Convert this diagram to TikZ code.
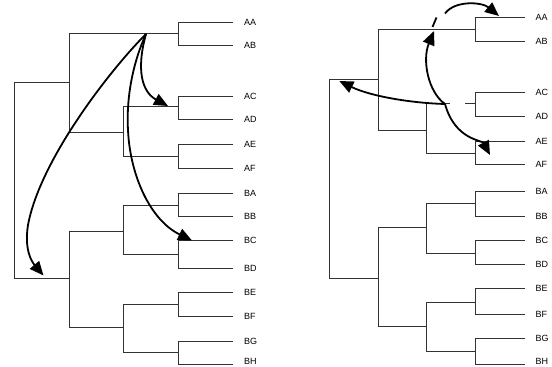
\documentclass[tikz,border=0pt]{standalone}
\usepackage{fontspec}
\setmainfont{Liberation Sans}
\usetikzlibrary{arrows.meta}
\begin{document}
\begin{tikzpicture}[x=1pt,y=-1pt,
  branch/.style={line width=0.7pt, draw=black!80},
  move/.style={line width=1.8pt, draw=black, -{Triangle[length=14pt,width=12pt]}},
  plain/.style={line width=1.8pt, draw=black},
  leaf/.style={anchor=west, inner sep=0pt, font=\fontsize{9}{10}\selectfont}]
\useasboundingbox (0,0) rectangle (552,367);

% ---------------- left tree ----------------
\foreach \n/\y in {AA/22,AB/45.7,AC/96,AD/119.5,AE/144.5,AF/168,BA/193.3,BB/216.7,BC/240.7,BD/268.3,BE/292,BF/316,BG/341.3,BH/361.5}
  \node[leaf] (L\n) at (244,\y) {\n};
% cherries
\draw[branch] (233,22) -- (178,22) -- (178,45.7) -- (233,45.7);
\draw[branch] (233,96) -- (178,96) -- (178,119.5) -- (233,119.5);
\draw[branch] (233,144.5) -- (178,144.5) -- (178,168) -- (233,168);
\draw[branch] (233,193.3) -- (178,193.3) -- (178,216.7) -- (233,216.7);
\draw[branch] (233,240.7) -- (178,240.7) -- (178,268.3) -- (233,268.3);
\draw[branch] (233,292) -- (178,292) -- (178,316) -- (233,316);
\draw[branch] (233,341.3) -- (178,341.3) -- (178,364.3) -- (233,364.3);
% inner
\draw[branch] (178,33.5) -- (69,33.5);
\draw[branch] (178,106.5) -- (123,106.5) -- (123,156.5) -- (178,156.5);
\draw[branch] (123,132) -- (69,132);
\draw[branch] (69,33.5) -- (69,132);
\draw[branch] (69,82.7) -- (14,82.7) -- (14,278.7) -- (69,278.7);
\draw[branch] (178,205.3) -- (123,205.3) -- (123,254.7) -- (178,254.7);
\draw[branch] (178,304) -- (123,304) -- (123,352.3) -- (178,352.3);
\draw[branch] (123,231) -- (69,231) -- (69,327.7) -- (123,327.7);

% left moves
\coordinate (S) at (146,34);
\coordinate (tAC) at (168,106);
\coordinate (tBC) at (192,240.5);
\coordinate (tR) at (43.5,275.5);
\draw[move] (S) .. controls (136,70) and (142,92) .. (tAC);
\draw[move] (S) .. controls (134,60) and (126,95) .. (128,130) .. controls (130,175) and (150,220) .. (tBC);
\draw[move] (S) .. controls (110,70) and (40,160) .. (28,225) .. controls (24,250) and (32,262) .. (tR);

% ---------------- right tree ----------------
\foreach \n/\y in {AA/17.3,AB/41.3,AC/92.7,AD/116,AE/141.5,AF/164.3,BA/191,BB/216,BC/240.7,BD/264.3,BE/288.7,BF/314.3,BG/338.7,BH/361.5}
  \node[leaf] (R\n) at (535.5,\y) {\n};
\draw[branch] (525.3,17.3) -- (475.3,17.3) -- (475.3,41.3) -- (525.3,41.3);
\draw[branch] (525.3,92.7) -- (475.3,92.7) -- (475.3,116) -- (525.3,116);
\draw[branch] (525.3,141.5) -- (475.3,141.5) -- (475.3,164.3) -- (525.3,164.3);
\draw[branch] (525.3,191) -- (475.3,191) -- (475.3,216) -- (525.3,216);
\draw[branch] (525.3,240.7) -- (475.3,240.7) -- (475.3,264.3) -- (525.3,264.3);
\draw[branch] (525.3,288.7) -- (475.3,288.7) -- (475.3,314.3) -- (525.3,314.3);
\draw[branch] (525.3,338.7) -- (475.3,338.7) -- (475.3,364.3) -- (525.3,364.3);
\draw[branch] (475.3,29.3) -- (378.3,29.3);
\draw[branch] (475.3,103.7) -- (465,103.7);
\draw[branch] (450,103.7) -- (426,103.7) -- (426,153.3) -- (475.3,153.3);
\draw[branch] (426,130) -- (378.3,130);
\draw[branch] (378.3,29.3) -- (378.3,130);
\draw[branch] (378.3,79.3) -- (329.3,79.3) -- (329.3,278) -- (378.3,278);
\draw[branch] (475.3,203.3) -- (426,203.3) -- (426,253) -- (475.3,253);
\draw[branch] (475.3,302) -- (426,302) -- (426,351.3) -- (475.3,351.3);
\draw[branch] (426,227.3) -- (378.3,227.3) -- (378.3,326.7) -- (426,326.7);

% right moves
\coordinate (P) at (445,104);
\coordinate (tRoot) at (339.3,81);
\coordinate (tUp) at (434,31);
\coordinate (tAE) at (490,155);
\coordinate (d1) at (432.5,27);
\coordinate (d2) at (436.5,17.5);
\coordinate (c1) at (445,13.5);
\coordinate (tAA) at (499,16);
\draw[move] (P) .. controls (410,103) and (370,96) .. (tRoot);
\draw[move] (P) .. controls (428,92) and (422,60) .. (tUp);
\draw[move] (P) .. controls (455,140) and (482,140) .. (tAE);
\draw[plain] (d1) -- (d2);
\draw[move] (c1) .. controls (455,0) and (482,2) .. (tAA);
\end{tikzpicture}
\end{document}
